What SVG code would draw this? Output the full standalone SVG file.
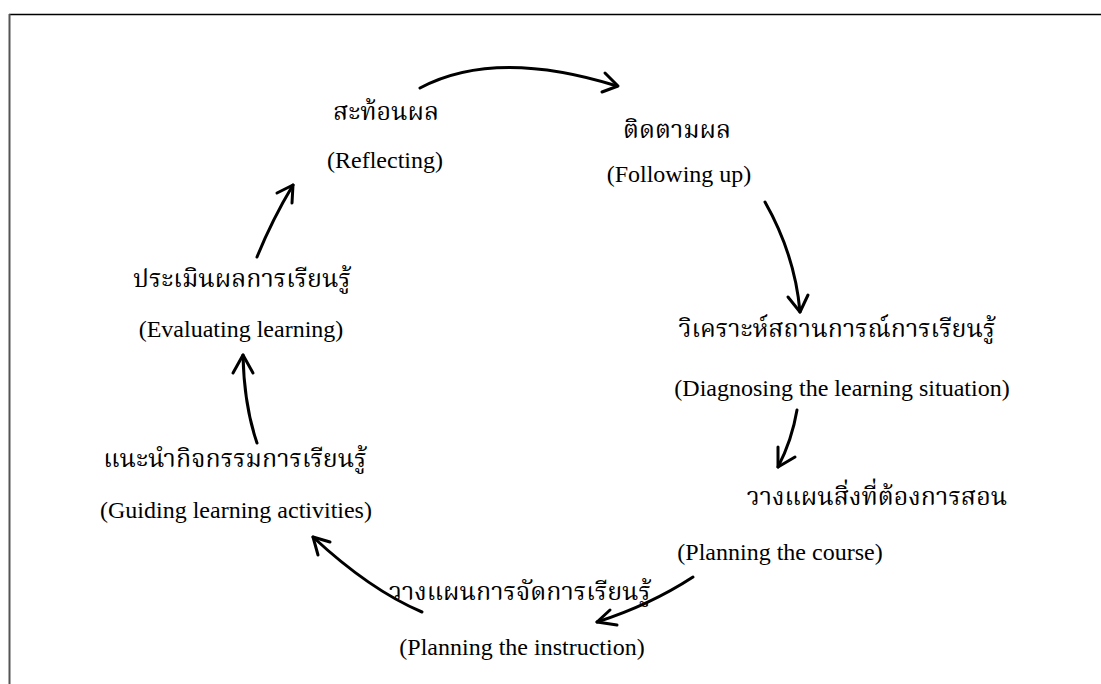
<svg xmlns="http://www.w3.org/2000/svg" width="1101" height="684" viewBox="0 0 1101 684">
<defs>
<style>
.th{font-family:"Liberation Serif","Noto Serif Thai","Noto Sans Thai","DejaVu Serif",serif;font-size:25px;fill:#000;text-anchor:middle}
.en{font-family:"Liberation Serif","Times New Roman",serif;font-size:24px;fill:#000;text-anchor:middle}
.arr{fill:none;stroke:#000;stroke-width:3;stroke-linecap:round;stroke-linejoin:round}
</style>
</defs>
<rect width="1101" height="684" fill="#fff"/>
<line x1="9" y1="14.5" x2="1101" y2="14.5" stroke="#000" stroke-width="1.5"/>
<line x1="9.5" y1="14" x2="9.5" y2="684" stroke="#555" stroke-width="2"/>
<g id="n1"><text class="th" x="386" y="120">สะท้อนผล</text><text class="en" x="385" y="168">(Reflecting)</text></g>
<g id="n2"><text class="th" x="677" y="138">ติดตามผล</text><text class="en" x="679" y="182">(Following up)</text></g>
<g id="n3"><text class="th" x="837" y="337">วิเคราะห์สถานการณ์การเรียนรู้</text><text class="en" x="842" y="396">(Diagnosing the learning situation)</text></g>
<g id="n4"><text class="th" x="877" y="505">วางแผนสิ่งที่ต้องการสอน</text><text class="en" x="780" y="560">(Planning the course)</text></g>
<g id="n5"><text class="th" x="520" y="600">วางแผนการจัดการเรียนรู้</text><text class="en" x="522" y="655">(Planning the instruction)</text></g>
<g id="n6"><text class="th" x="235" y="467">แนะนำกิจกรรมการเรียนรู้</text><text class="en" x="236" y="518">(Guiding learning activities)</text></g>
<g id="n7"><text class="th" x="242" y="287">ประเมินผลการเรียนรู้</text><text class="en" x="241" y="337">(Evaluating learning)</text></g>
<g id="connectors" class="arr">
<path d="M420,88 Q495,48 617,86"/><polyline points="605,73 618,86 602,92"/>
<path d="M765,202 Q795,255 800,312"/><polyline points="788,297 800,312 808,295"/>
<path d="M797,410 Q792,440 778,467"/><polyline points="795,457 778,467 778,447"/>
<path d="M693,577 Q650,605 597,622"/><polyline points="617,625 597,622 610,610"/>
<path d="M422,612 Q370,590 313,537"/><polyline points="330,542 313,537 318,555"/>
<path d="M257,443 Q244,405 243,355"/><polyline points="233,373 243,355 253,373"/>
<path d="M257,257 Q272,220 293,185"/><polyline points="277,193 293,185 292,203"/>
</g>
</svg>
